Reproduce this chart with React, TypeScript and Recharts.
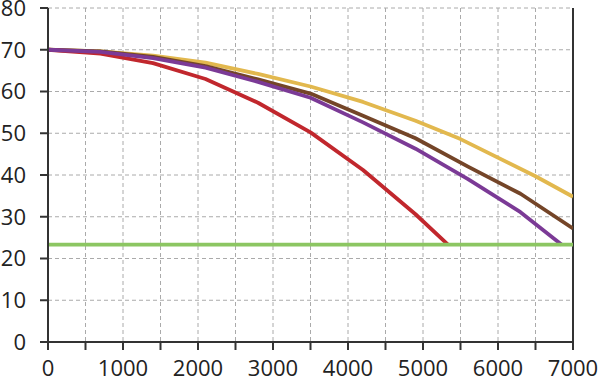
import React from 'react';
import { LineChart, Line, XAxis, YAxis, CartesianGrid, ReferenceLine } from 'recharts';

const xTicks = [0, 500, 1000, 1500, 2000, 2500, 3000, 3500, 4000, 4500, 5000, 5500, 6000, 6500, 7000];
const yTicks = [0, 10, 20, 30, 40, 50, 60, 70, 80];

const yellowX = [0, 700, 1400, 2100, 2800, 3500, 4200, 4900, 5500, 6500, 7000];
const yellowY = [70, 69.6, 68.6, 66.9, 64.2, 61.2, 57.5, 53.0, 48.6, 39.7, 34.8];

const brownX = [0, 700, 1400, 2100, 2800, 3500, 4200, 4900, 5600, 6300, 7000];
const brownY = [70, 69.6, 68.3, 66.1, 62.9, 59.5, 54.2, 48.8, 42.0, 35.5, 27.2];

const purpleX = [0, 700, 1400, 2100, 2800, 3500, 4200, 4900, 5600, 6300, 6850];
const purpleY = [70, 69.5, 68.0, 65.7, 62.3, 58.5, 52.6, 46.3, 39.0, 31.1, 23.3];

const redX = [0, 700, 1400, 2100, 2800, 3500, 4200, 4900, 5333];
const redY = [70, 69.1, 66.8, 63.0, 57.3, 50.2, 41.2, 30.6, 23.3];

const greenX = [0, 7000];
const greenY = [23.3, 23.3];

const toData = (xs: number[], ys: number[]) => xs.map((x, i) => ({ x, y: ys[i] }));

const series = [
  { name: 'yellow', data: toData(yellowX, yellowY), color: '#e2b84e' },
  { name: 'brown', data: toData(brownX, brownY), color: '#744528' },
  { name: 'red', data: toData(redX, redY), color: '#c1272d' },
  { name: 'purple', data: toData(purpleX, purpleY), color: '#7b3a96' },
  { name: 'green', data: toData(greenX, greenY), color: '#8cc662' },
];

const font = { fontFamily: '"Open Sans", sans-serif', fontSize: 22, fill: '#222' };

export default function App() {
  return (
    <div style={{ position: 'absolute', left: 0, top: 0, width: 600, height: 381, background: '#fff' }}>
      <LineChart width={600} height={381} margin={{ top: 8, right: 27, bottom: 0, left: 0 }}>
        <CartesianGrid stroke="#aaa" strokeDasharray="4 3" />
        <XAxis
          type="number"
          dataKey="x"
          domain={[0, 7000]}
          ticks={xTicks}
          interval={0}
          tickFormatter={(v: number) => (v % 1000 === 0 ? String(v) : '')}
          height={39}
          tickSize={8}
          tickMargin={10}
          stroke="#333"
          strokeWidth={2}
          tick={font}
          allowDataOverflow
        />
        <YAxis
          type="number"
          domain={[0, 80]}
          ticks={yTicks}
          interval={0}
          width={48}
          tickSize={8}
          tickMargin={14}
          stroke="#333"
          strokeWidth={2}
          tick={font}
          allowDataOverflow
        />
        <ReferenceLine x={7000} stroke="#333" strokeWidth={2} />
        {series.map((s) => (
          <Line
            key={s.name}
            data={s.data}
            dataKey="y"
            type="linear"
            stroke={s.color}
            strokeWidth={3.8}
            strokeLinejoin="round"
            dot={false}
            activeDot={false}
            isAnimationActive={false}
          />
        ))}
      </LineChart>
    </div>
  );
}
